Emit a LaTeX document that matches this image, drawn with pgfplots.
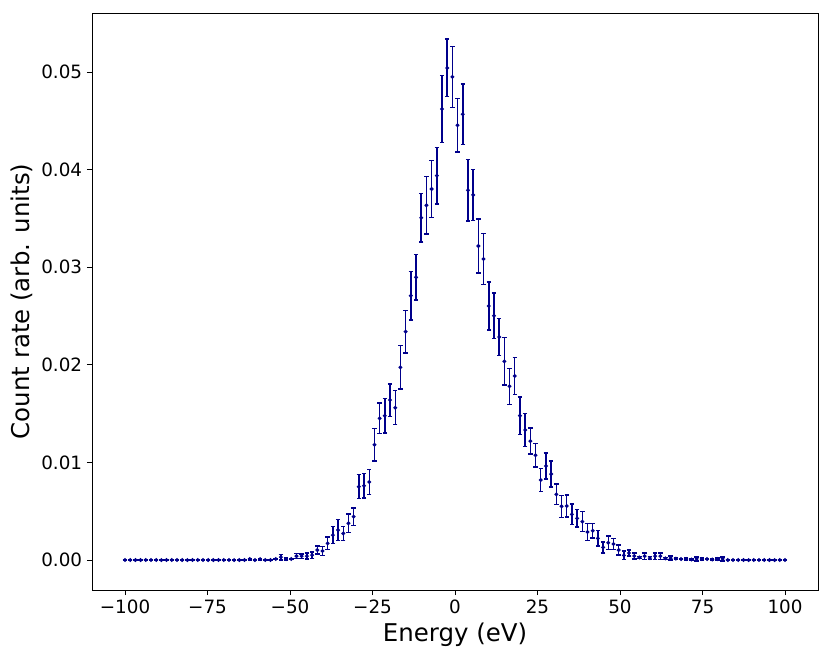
\documentclass[border=0pt]{standalone}
\usepackage{fontspec}
\setmainfont{DejaVu Sans}
\usepackage{pgfplots}
\pgfplotsset{compat=1.18}
\usepackage{pgfplotstable}
\definecolor{mplblue}{RGB}{0,0,139}
\pgfplotstableread{
x y e
-100.000 0 0
-98.425 0 0
-96.850 0 0
-95.276 0 0
-93.701 0 0
-92.126 0 0
-90.551 0 0
-88.976 0 0
-87.402 0 0
-85.827 0 0
-84.252 0 0
-82.677 0 0
-81.102 0 0
-79.528 0 0
-77.953 0 0
-76.378 0 0
-74.803 0 0
-73.228 0 0
-71.654 0 0
-70.079 0 0
-68.504 0 0
-66.929 0 0
-65.354 0 0
-63.780 0 0
-62.205 0.0001 0.00008
-60.630 0 0
-59.055 0.0001 0.00008
-57.480 0 0
-55.906 0 0
-54.331 0.0001 0.00005
-52.756 0.0003 0.00028
-51.181 0.0001 0.0001
-49.606 0.0001 0.00005
-48.031 0.0004 0.00025
-46.457 0.0004 0.00024
-44.882 0.0004 0.0003
-43.307 0.0005 0.00034
-41.732 0.00102 0.0004
-40.157 0.00092 0.00048
-38.583 0.00171 0.00065
-37.008 0.00256 0.00085
-35.433 0.00307 0.00106
-33.858 0.00273 0.00072
-32.283 0.00376 0.00094
-30.709 0.00444 0.00089
-29.134 0.00751 0.00123
-27.559 0.00761 0.00125
-25.984 0.00800 0.00128
-24.409 0.01181 0.00166
-22.835 0.01452 0.00157
-21.260 0.01478 0.00179
-19.685 0.01639 0.00166
-18.110 0.01560 0.00174
-16.535 0.01974 0.00224
-14.961 0.02339 0.00220
-13.386 0.02708 0.00249
-11.811 0.02896 0.00232
-10.236 0.03507 0.00249
-8.661 0.03634 0.00294
-7.087 0.03801 0.00290
-5.512 0.03938 0.00290
-3.937 0.04621 0.00343
-2.362 0.05041 0.00295
-0.787 0.04949 0.00313
0.787 0.04454 0.00273
2.362 0.04567 0.00310
3.937 0.03788 0.00314
5.512 0.03740 0.00263
7.087 0.03217 0.00275
8.661 0.03084 0.00259
10.236 0.02602 0.00246
11.811 0.02503 0.00234
13.386 0.02285 0.00191
14.961 0.02036 0.00241
16.535 0.01780 0.00184
18.110 0.01885 0.00191
19.685 0.01479 0.00193
21.260 0.01332 0.00171
22.835 0.01219 0.00135
24.409 0.01073 0.00120
25.984 0.00820 0.00116
27.559 0.00963 0.00133
29.134 0.00881 0.00135
30.709 0.00673 0.00106
32.283 0.00550 0.00113
33.858 0.00553 0.00113
35.433 0.00468 0.00104
37.008 0.00427 0.00089
38.583 0.00393 0.00102
40.157 0.00287 0.00089
41.732 0.00300 0.00072
43.307 0.00222 0.00080
44.882 0.00130 0.00056
46.457 0.00177 0.00068
48.031 0.00164 0.00056
49.606 0.00102 0.00050
51.181 0.00048 0.00044
52.756 0.00072 0.00030
54.331 0.00041 0.00030
55.906 0.00027 0.00010
57.480 0.00040 0.00034
59.055 0.00020 0.00015
60.630 0.00040 0.00034
62.205 0.00040 0.00034
63.780 0.00017 0.00010
65.354 0.00020 0.00020
66.929 0.00014 0.00010
68.504 0.00010 0.00005
70.079 0.00010 0.00010
71.654 0.00005 0.00005
73.228 0.00012 0.00020
74.803 0.00010 0.00010
76.378 0.00010 0.00005
77.953 0.00005 0.00005
79.528 0.00010 0.00010
81.102 0.00012 0.00020
82.677 0 0
84.252 0 0
85.827 0 0
87.402 0 0
88.976 0 0
90.551 0 0
92.126 0 0
93.701 0 0
95.276 0 0
96.850 0 0
98.425 0 0
100.000 0 0
}\datatable
\begin{document}
\begin{tikzpicture}
\path[use as bounding box] (-66.24bp,-47.52bp) rectangle (531.36bp,424.8bp);
\begin{axis}[
  at={(0,0)}, anchor=south west,
  scale only axis, width=522.72bp, height=415.44bp,
  xmin=-110, xmax=110, ymin=-0.00307, ymax=0.05604,
  xtick={-100,-75,-50,-25,0,25,50,75,100},
  xticklabels={−100,−75,−50,−25,0,25,50,75,100},
  ytick={0,0.01,0.02,0.03,0.04,0.05},
  yticklabels={0.00,0.01,0.02,0.03,0.04,0.05},
  scaled y ticks=false,
  tick pos=left,
  tick align=outside,
  major tick length=3.6bp,
  tick style={black, line width=0.6bp},
  axis line style={black, line width=0.6bp},
  ticklabel style={font=\fontsize{13.2bp}{15bp}\selectfont},
  label style={font=\fontsize{17.6bp}{20bp}\selectfont},
  xlabel={Energy (eV)},
  ylabel={Count rate (arb. units)},
  xlabel style={at={(axis description cs:0.5,0)}, anchor=north, yshift=-20bp},
  ylabel style={at={(axis description cs:0,0.5)}, anchor=south, rotate=0, yshift=39bp},
]
\addplot[mplblue, only marks, mark=*, mark size=0.8bp, line width=1.05bp,
  error bars/.cd, y dir=both, y explicit,
  error bar style={line width=1.05bp, mplblue},
  error mark options={rotate=90, mark size=1.6bp, line width=1.05bp, mplblue}]
  table[x=x, y=y, y error=e]{\datatable};
\end{axis}
\end{tikzpicture}
\end{document}
